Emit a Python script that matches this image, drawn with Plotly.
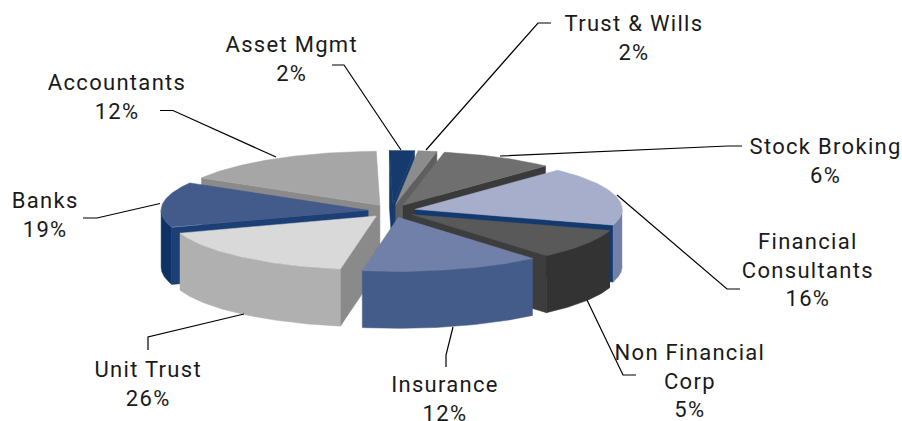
import numpy as np
import plotly.graph_objects as go

# Categories and the percentages printed on the labels
categories = ["Asset Mgmt", "Trust & Wills", "Stock Broking", "Financial<br>Consultants",
              "Non Financial<br>Corp", "Insurance", "Unit Trust", "Banks", "Accountants"]
label_pct = [2, 2, 6, 16, 5, 12, 26, 19, 12]
# Share of the circle each slice visibly covers in the picture (%)
slice_share = [1.94, 1.53, 8.89, 17.64, 9.03, 14.03, 17.08, 13.61, 16.25]
start_deg = -1.0

# Styles: top surface, outer wall, radial face
top_color = ["#153a6b", "#8c8c8c", "#6f6f6f", "#a6aecb", "#595959", "#7180a8", "#d9d9d9", "#435b8a", "#a6a6a6"]
wall_color = ["#0f3567", "#666666", "#3a3a3a", "#7280a8", "#333333", "#445c8a", "#b0b0b0", "#0d3366", "#8a8a8a"]
face_color = ["#153a6b", "#5f5f5f", "#3a3a3a", "#14396f", "#3d3d3d", "#445c8a", "#8a8a8a", "#1c3f76", "#8a8a8a"]
draw_order = [0, 1, 2, 8, 7, 3, 4, 6, 5]

# Pie projection in pixels
CX, CY, RX, RY, PULL, DEPTH = 392, 211, 207, 54, 24, 57
PULL_RATIO = 0.275

# Label layout: text centre and leader polyline
label_xy = [(291, 58.5), (634, 37.5), (825, 160.5), (808, 269.5), (690, 381), (445, 398.5), (148, 383.5), (45, 215), (117, 96.5)]
leaders = [
    [(332, 65), (344, 65), (401, 150)],
    [(551, 23), (538, 23), (426, 150)],
    [(742, 146), (728, 146), (500, 156)],
    [(617, 195), (727, 289), (740, 289)],
    [(587, 300), (623, 375), (636, 375)],
    [(453, 327), (446, 355), (446, 367)],
    [(244, 314), (148, 337), (148, 350)],
    [(160, 203.5), (97, 218), (83, 218)],
    [(160, 110.5), (173, 110.5), (276, 157)],
]

edges = start_deg + np.concatenate([[0], np.cumsum(slice_share)]) * 3.6


def pt(deg, r=1.0):
    t = np.radians(deg)
    return np.sin(t) * RX * r, -np.cos(t) * RY * r


def poly(fig, xs, ys, color):
    fig.add_trace(go.Scatter(x=list(xs), y=list(ys), mode="lines", fill="toself", fillcolor=color,
                             line=dict(color=color, width=0.5), hoverinfo="skip", showlegend=False))


fig = go.Figure()
for i in draw_order:
    a, b = edges[i], edges[i + 1]
    mid = (a + b) / 2
    ax = CX + np.sin(np.radians(mid)) * PULL
    ay = CY - np.cos(np.radians(mid)) * PULL * PULL_RATIO
    # radial faces
    if np.sin(np.radians(a)) < 0:
        x, y = pt(a)
        poly(fig, [ax, ax + x, ax + x, ax, ax], [ay, ay + y, ay + y + DEPTH, ay + DEPTH, ay], face_color[i])
    if np.sin(np.radians(b)) > 0:
        x, y = pt(b)
        poly(fig, [ax, ax + x, ax + x, ax, ax], [ay, ay + y, ay + y + DEPTH, ay + DEPTH, ay], face_color[i])
    # outer wall (front half only)
    lo, hi = max(a, 90), min(b, 270)
    if hi > lo:
        th = np.linspace(lo, hi, 60)
        x, y = pt(th)
        poly(fig, np.r_[ax + x, (ax + x)[::-1]], np.r_[ay + y, (ay + y + DEPTH)[::-1]], wall_color[i])
    # top surface
    th = np.linspace(a, b, 80)
    x, y = pt(th)
    poly(fig, np.r_[ax, ax + x, ax], np.r_[ay, ay + y, ay], top_color[i])

for line in leaders:
    fig.add_trace(go.Scatter(x=[p[0] for p in line], y=[p[1] for p in line], mode="lines",
                             line=dict(color="#000000", width=1.2), hoverinfo="skip", showlegend=False))

for name, pct, (x, y) in zip(categories, label_pct, label_xy):
    fig.add_annotation(x=x, y=y, text=f"{name}<br>{pct}%", showarrow=False, xanchor="center", yanchor="middle",
                       align="center", font=dict(family="Roboto", size=22, color="#1a1a1a"))

fig.update_xaxes(visible=False, range=[0, 902], fixedrange=True)
fig.update_yaxes(visible=False, range=[421, 0], fixedrange=True)
fig.update_layout(width=902, height=421, margin=dict(l=0, r=0, t=0, b=0),
                  paper_bgcolor="white", plot_bgcolor="white", showlegend=False)
fig.write_html(
    "out.html",
    post_script="document.body.style.margin='0';document.body.style.overflow='hidden';"
                "document.querySelectorAll('.annotation-text').forEach(function(t){t.style.letterSpacing='1.3px';});",
    config={"displayModeBar": False},
)
